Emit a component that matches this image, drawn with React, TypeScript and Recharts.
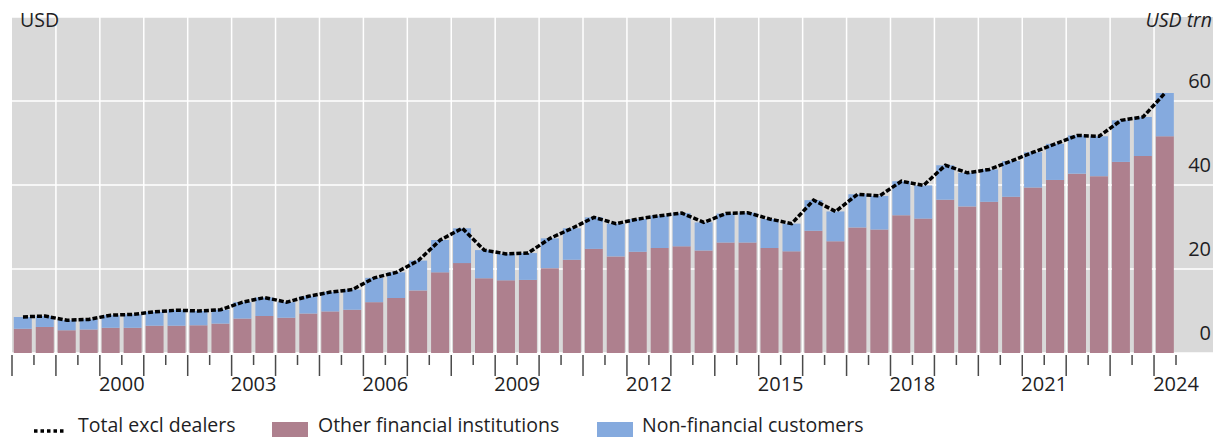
import React from 'react';
import { ComposedChart, Bar, Line, XAxis, YAxis, CartesianGrid, ReferenceLine } from 'recharts';

// half-yearly observations, 1998 H1 to 2024 H1
const periods: string[] = Array.from({ length: 53 }, (_, i) => `${1998 + Math.floor(i / 2)}-H${(i % 2) + 1}`);

const otherFinancial = [
  5.8, 6.2, 5.4, 5.6, 6.0, 6.0, 6.5, 6.5, 6.6, 7.0,
  8.2, 8.8, 8.4, 9.4, 9.9, 10.3, 12.1, 13.1, 14.9, 19.2,
  21.4, 17.8, 17.3, 17.4, 20.2, 22.2, 24.8, 23.0, 24.1, 25.0,
  25.4, 24.4, 26.3, 26.3, 25.0, 24.2, 29.1, 26.6, 29.9, 29.4,
  32.8, 32.0, 36.5, 34.9, 36.0, 37.2, 39.4, 41.2, 42.7, 42.1,
  45.5, 46.9, 51.6,
];

const nonFinancial = [
  2.8, 2.6, 2.4, 2.4, 3.0, 3.2, 3.3, 3.7, 3.4, 3.3,
  3.9, 4.4, 3.7, 4.1, 4.6, 4.8, 5.8, 6.1, 7.1, 7.7,
  8.3, 6.7, 6.3, 6.4, 7.1, 7.5, 7.5, 7.8, 7.8, 7.7,
  7.9, 6.7, 6.9, 7.1, 6.9, 6.6, 7.3, 7.1, 7.9, 8.0,
  8.1, 7.9, 8.2, 8.0, 7.7, 8.5, 8.4, 8.6, 9.1, 9.5,
  9.9, 9.3, 10.3,
];

const totalExclDealers = [
  8.6, 8.8, 7.8, 8.0, 9.0, 9.2, 9.8, 10.2, 10.0, 10.3,
  12.1, 13.2, 12.1, 13.5, 14.5, 15.1, 17.9, 19.2, 22.0, 26.9,
  29.7, 24.5, 23.6, 23.8, 27.3, 29.7, 32.3, 30.8, 31.9, 32.7,
  33.3, 31.1, 33.2, 33.4, 31.9, 30.8, 36.4, 33.7, 37.8, 37.4,
  40.9, 39.9, 44.7, 42.9, 43.7, 45.7, 47.8, 49.8, 51.8, 51.6,
  55.4, 56.2, 61.9,
];

const yearLabels = ['2000', '2003', '2006', '2009', '2012', '2015', '2018', '2021', '2024'];
const gridYears = Array.from({ length: 26 }, (_, i) => `${1999 + i}-H1`);
const yTicks = [0, 20, 40, 60];

const data = periods.map((p, i) => ({
  period: p,
  ofi: otherFinancial[i],
  nonfin: nonFinancial[i],
  total: totalExclDealers[i],
}));

const PINK = '#ae808e';
const BLUE = '#85aade';
const GREY = '#d9d9d9';
const TEXT = '#1e1e24';
const FONT = '"Open Sans", sans-serif';

const W = 1221;
const H = 437;
const M = { top: 17, right: 0, left: 12, bottom: 0 };
const Y_W = 45;
const HALF_BAND = (W - M.left - Y_W) / periods.length / 2;

const XTick = (props: any) => {
  const { x, y, payload, index } = props;
  const half = payload && typeof payload.offset === 'number' && payload.offset > 0 ? payload.offset : HALF_BAND;
  const [year, h] = String(payload.value).split('-');
  const start = x - half;
  const yearStart = h === 'H1';
  return (
    <g>
      <line x1={start} x2={start} y1={y + 2} y2={y + (yearStart ? 23 : 12)} stroke="#4a4a4a" strokeWidth={1.5} />
      {index === periods.length - 1 && (
        <line x1={x + half} x2={x + half} y1={y + 2} y2={y + 12} stroke="#4a4a4a" strokeWidth={1.5} />
      )}
      {yearStart && yearLabels.includes(year) && (
        <text x={x + half} y={y + 38} textAnchor="middle" fill={TEXT} fontSize={20} fontFamily={FONT}>
          {year}
        </text>
      )}
    </g>
  );
};

const YTick = (props: any) => {
  const { x, y, payload } = props;
  return (
    <g>
      <line x1={x} x2={x + 38} y1={y} y2={y} stroke="#fff" strokeWidth={1.5} />
      <text x={x + 35} y={y - 13} textAnchor="end" fill={TEXT} fontSize={20} fontFamily={FONT}>
        {payload.value}
      </text>
    </g>
  );
};

const legendText: React.CSSProperties = {
  position: 'absolute',
  top: 415,
  fontSize: 19.5,
  lineHeight: '20px',
  color: TEXT,
  fontFamily: FONT,
  whiteSpace: 'nowrap',
};

export default function App() {
  return (
    <div style={{ position: 'absolute', left: 0, top: 0, width: W, height: H, background: '#fff', overflow: 'hidden', fontFamily: FONT }}>
      <div style={{ position: 'absolute', left: 12, top: 17, width: 1201, height: 336, background: GREY }} />
      <div style={{ position: 'absolute', left: 0, top: 0 }}>
        <ComposedChart width={W} height={H} data={data} margin={M} barCategoryGap={1.8}>
          <CartesianGrid vertical={false} stroke="#fff" strokeWidth={1.5} />
          {gridYears.map((g) => (
            <ReferenceLine key={g} x={g} position="start" stroke="#fff" strokeWidth={1.5} />
          ))}
          <XAxis
            dataKey="period"
            interval={0}
            height={84}
            tickLine={false}
            axisLine={false}
            tickSize={0}
            tickMargin={0}
            tick={<XTick />}
          />
          <YAxis
            orientation="right"
            width={Y_W}
            domain={[0, 80]}
            ticks={yTicks}
            axisLine={false}
            tickLine={false}
            tickSize={0}
            tickMargin={0}
            tick={<YTick />}
          />
          <Bar dataKey="ofi" stackId="a" fill={PINK} isAnimationActive={false} />
          <Bar dataKey="nonfin" stackId="a" fill={BLUE} isAnimationActive={false} />
          <Line
            type="linear"
            dataKey="total"
            stroke="#000"
            strokeWidth={3.5}
            strokeDasharray="5 2"
            dot={false}
            isAnimationActive={false}
          />
        </ComposedChart>
      </div>
      <div style={{ position: 'absolute', left: 20, top: 9, fontSize: 19.5, lineHeight: '22px', color: TEXT }}>USD</div>
      <div style={{ position: 'absolute', right: 9, top: 9, fontSize: 19.5, lineHeight: '22px', color: TEXT, fontStyle: 'italic' }}>USD trn</div>

      <svg style={{ position: 'absolute', left: 33, top: 426 }} width={32} height={8}>
        <line x1={1} x2={31} y1={5} y2={5} stroke="#000" strokeWidth={3.5} strokeDasharray="3.5 3" />
      </svg>
      <div style={{ ...legendText, left: 78 }}>Total excl dealers</div>
      <div style={{ position: 'absolute', left: 272, top: 422, width: 36, height: 15, background: PINK }} />
      <div style={{ ...legendText, left: 318 }}>Other financial institutions</div>
      <div style={{ position: 'absolute', left: 597, top: 422, width: 36, height: 15, background: BLUE }} />
      <div style={{ ...legendText, left: 642 }}>Non-financial customers</div>
    </div>
  );
}
